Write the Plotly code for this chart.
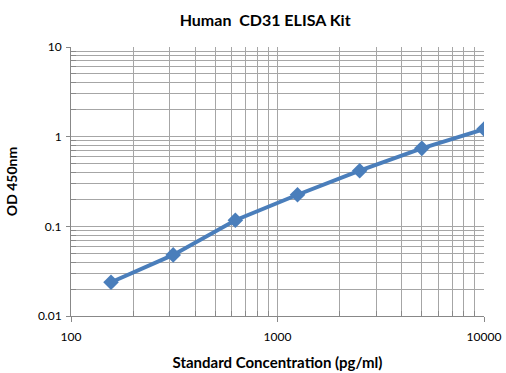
import plotly.graph_objects as go

concentration = [156.25, 312.5, 625, 1250, 2500, 5000, 10000]
od450 = [0.0238, 0.048, 0.117, 0.225, 0.417, 0.741, 1.216]

x_ticks = [100, 1000, 10000]
x_tick_labels = ["100", "1000", "10000"]
y_ticks = [0.01, 0.1, 1, 10]
y_tick_labels = ["0.01", "0.1", "1", "10"]

blue = "#4A7EBB"
grid = "#A6A6A6"
axis_col = "#888888"
font_family = "Lato, 'Open Sans', sans-serif"

fig = go.Figure()
fig.add_trace(go.Scatter(
    x=concentration, y=od450, mode="lines+markers",
    line=dict(color=blue, width=4),
    marker=dict(symbol="diamond", size=12, color=blue),
    showlegend=False,
))

fig.update_layout(
    width=506, height=373,
    paper_bgcolor="white", plot_bgcolor="white",
    margin=dict(l=71, r=22, t=47, b=57),
    font=dict(family=font_family, size=11, color="#000000"),
    title=dict(text="<b>Human  CD31 ELISA Kit</b>", x=0.524, xanchor="center",
               y=0.944, yanchor="middle", font=dict(size=16, family=font_family)),
)

fig.update_xaxes(
    type="log", range=[2, 4], automargin=False,
    tickvals=x_ticks, ticktext=x_tick_labels,
    showgrid=True, gridcolor=grid, gridwidth=1,
    ticks="outside", ticklen=5, tickcolor=axis_col, ticklabelstandoff=5,
    showline=True, linecolor=axis_col, linewidth=1,
    minor=dict(showgrid=True, gridcolor=grid, gridwidth=1,
               tickvals=[m * d for d in [100, 1000] for m in range(2, 10)],
               ticks="inside", ticklen=5, tickcolor=axis_col),
    title=dict(text="<b>Standard Concentration (pg/ml)</b>", font=dict(size=15), standoff=14),
    tickfont=dict(size=12), zeroline=False,
)
fig.update_yaxes(
    type="log", range=[-2, 1], automargin=False,
    tickvals=y_ticks, ticktext=y_tick_labels,
    showgrid=True, gridcolor=grid, gridwidth=1,
    ticks="outside", ticklen=4, tickcolor=axis_col, ticklabelstandoff=2,
    showline=True, linecolor=axis_col, linewidth=1,
    minor=dict(showgrid=True, gridcolor=grid, gridwidth=1,
               tickvals=[m * d for d in [0.01, 0.1, 1] for m in range(2, 10)],
               ticks="inside", ticklen=5, tickcolor=axis_col),
    title=dict(text="<b>OD 450nm</b>", font=dict(size=14), standoff=16),
    tickfont=dict(size=12), zeroline=False,
)

fig.write_html("out.html", config={"displayModeBar": False},
               post_script="document.body.style.margin='0';")
